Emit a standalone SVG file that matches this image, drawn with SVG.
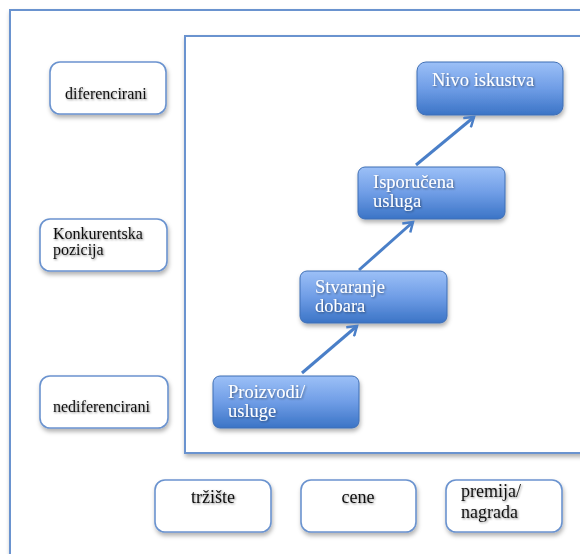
<svg xmlns="http://www.w3.org/2000/svg" width="580" height="554" viewBox="0 0 580 554">
<defs>
<linearGradient id="blue" x1="0" y1="0" x2="0" y2="1">
<stop offset="0" stop-color="#9cc0f7"/>
<stop offset="0.5" stop-color="#6f9de6"/>
<stop offset="1" stop-color="#3b74c6"/>
</linearGradient>
<filter id="sh" x="-10%" y="-10%" width="130%" height="140%">
<feDropShadow dx="1" dy="3" stdDeviation="2" flood-color="#000" flood-opacity="0.3"/>
</filter>
<filter id="tsh" x="-10%" y="-20%" width="130%" height="160%">
<feDropShadow dx="1" dy="1" stdDeviation="0.8" flood-color="#000" flood-opacity="0.45"/>
</filter>
<marker id="arr" markerWidth="14" markerHeight="14" refX="11" refY="7" orient="auto" markerUnits="userSpaceOnUse">
<path d="M2,1 L11,7 L2,13" fill="none" stroke="#4a7fc8" stroke-width="2.5"/>
</marker>
</defs>
<style>
.frame{fill:#fff;stroke:#6b93cf;stroke-width:2}
.wbox{fill:#fff;stroke:#6b93cf;stroke-width:1.6}
.bbox{fill:url(#blue);stroke:#3f6fb5;stroke-width:1}
.lt{font-family:"Liberation Serif",serif;font-size:16px;fill:#111}
.bt{font-family:"Liberation Serif",serif;font-size:18px;fill:#111}
.wt{font-family:"Liberation Serif",serif;font-size:18.5px;fill:#fff}
.con{stroke:#4a7fc8;stroke-width:3;fill:none}
</style>
<rect x="0" y="0" width="580" height="554" fill="#fff"/>
<rect class="frame" x="10" y="10" width="600" height="580" filter="url(#sh)"/>
<rect class="frame" x="185" y="36" width="420" height="417" filter="url(#sh)"/>

<g id="diferencirani">
<rect class="wbox" x="50" y="62" width="116" height="52" rx="10" filter="url(#sh)"/>
<text class="lt" x="65" y="99" filter="url(#tsh)">diferencirani</text>
</g>
<g id="konkurentska">
<rect class="wbox" x="40" y="219" width="127" height="52" rx="10" filter="url(#sh)"/>
<text class="lt" x="53" y="239" filter="url(#tsh)">Konkurentska</text>
<text class="lt" x="53" y="255" filter="url(#tsh)">pozicija</text>
</g>
<g id="nediferencirani">
<rect class="wbox" x="40" y="376" width="128" height="52" rx="10" filter="url(#sh)"/>
<text class="lt" x="53" y="412" filter="url(#tsh)">nediferencirani</text>
</g>

<g id="proizvodi">
<rect class="bbox" x="213" y="376" width="146" height="52" rx="7" filter="url(#sh)"/>
<text class="wt" x="228" y="398" filter="url(#tsh)">Proizvodi/</text>
<text class="wt" x="228" y="417" filter="url(#tsh)">usluge</text>
</g>
<g id="stvaranje">
<rect class="bbox" x="300" y="271" width="147" height="52" rx="7" filter="url(#sh)"/>
<text class="wt" x="315" y="293" filter="url(#tsh)">Stvaranje</text>
<text class="wt" x="315" y="312" filter="url(#tsh)">dobara</text>
</g>
<g id="isporucena">
<rect class="bbox" x="358" y="167" width="147" height="52" rx="7" filter="url(#sh)"/>
<text class="wt" x="373" y="188" filter="url(#tsh)">Isporučena</text>
<text class="wt" x="373" y="207" filter="url(#tsh)">usluga</text>
</g>
<g id="nivo">
<rect class="bbox" x="417" y="62" width="146" height="53" rx="9" filter="url(#sh)"/>
<text class="wt" x="432" y="86" filter="url(#tsh)">Nivo iskustva</text>
</g>

<g id="trziste">
<rect class="wbox" x="155" y="480" width="116" height="52" rx="10" filter="url(#sh)"/>
<text class="bt" x="213" y="503" text-anchor="middle" filter="url(#tsh)">tržište</text>
</g>
<g id="cene">
<rect class="wbox" x="301" y="480" width="115" height="52" rx="10" filter="url(#sh)"/>
<text class="bt" x="358" y="503" text-anchor="middle" filter="url(#tsh)">cene</text>
</g>
<g id="premija">
<rect class="wbox" x="446" y="480" width="116" height="52" rx="10" filter="url(#sh)"/>
<text class="bt" x="461" y="497" filter="url(#tsh)">premija/</text>
<text class="bt" x="461" y="518" filter="url(#tsh)">nagrada</text>
</g>

<g id="connectors">
<line class="con" x1="302" y1="373" x2="357" y2="326" marker-end="url(#arr)"/>
<line class="con" x1="359" y1="270" x2="413" y2="222" marker-end="url(#arr)"/>
<line class="con" x1="416" y1="165" x2="474" y2="117" marker-end="url(#arr)"/>
</g>
</svg>
